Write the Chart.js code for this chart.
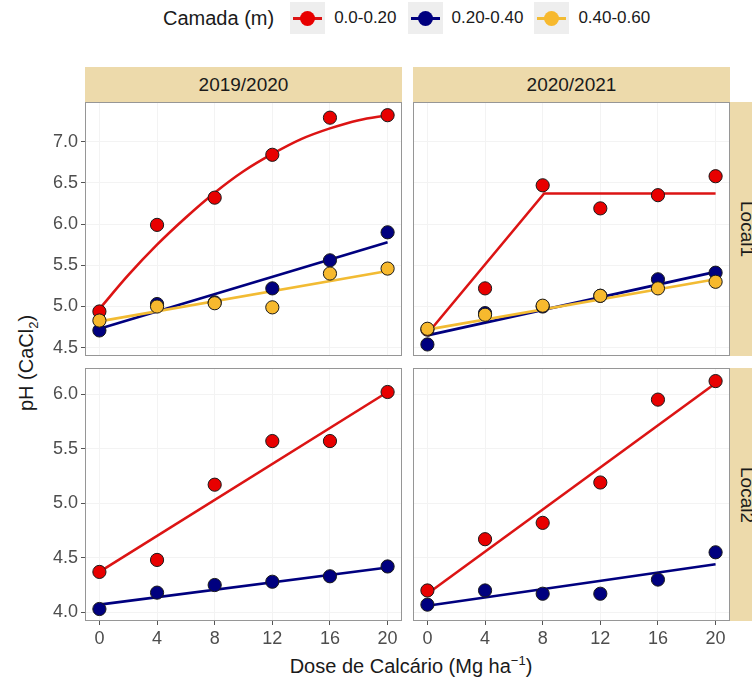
<!DOCTYPE html>
<html><head><meta charset="utf-8">
<script src="https://cdn.jsdelivr.net/npm/chart.js@4"></script>
<style>
html,body{margin:0;padding:0;}
body{width:752px;height:683px;overflow:hidden;background:#fff;position:relative;font-family:"Liberation Sans",Arial,sans-serif;color:#1a1a1a;}
canvas{position:absolute;}
.strip{position:absolute;background:#EDDAAB;color:#1a1a1a;font-size:19px;display:flex;align-items:center;justify-content:center;}
.vtext{transform:rotate(90deg);white-space:nowrap;}
#legend{position:absolute;left:163px;top:2px;height:32px;display:flex;align-items:center;}
#legend .title{font-size:20px;margin-right:16px;}
#legend .key{width:35px;height:32px;background:#EEEEEE;position:relative;margin-right:9px;}
#legend .key .ln{position:absolute;left:3px;right:3px;top:15px;height:3px;}
#legend .key .pt{position:absolute;left:10px;top:9px;width:15px;height:15px;border-radius:50%;}
#legend .lab{font-size:17px;margin-right:11px;}
#ytitle{position:absolute;left:-72px;top:350px;width:200px;text-align:center;font-size:20px;transform:rotate(-90deg);white-space:nowrap;}
#xtitle{position:absolute;left:211px;top:653px;width:400px;text-align:center;font-size:20px;white-space:nowrap;}
sub,sup{font-size:13px;}
</style></head>
<body>
<div id="legend"></div>
<div class="strip" style="left:85px;top:67px;width:317px;height:35px;">2019/2020</div>
<div class="strip" style="left:413px;top:67px;width:317px;height:35px;">2020/2021</div>
<div class="strip" style="left:730px;top:102px;width:34px;height:254px;"><div class="vtext">Local1</div></div>
<div class="strip" style="left:730px;top:368px;width:34px;height:253px;"><div class="vtext">Local2</div></div>
<div id="ytitle">pH (CaCl<sub>2</sub>)</div>
<div id="xtitle">Dose de Calcário (Mg ha<sup>−1</sup>)</div>
<canvas id="c11" width="402" height="254" style="left:0;top:102px;"></canvas>
<canvas id="c12" width="317" height="254" style="left:413px;top:102px;"></canvas>
<canvas id="c21" width="402" height="293" style="left:0;top:368px;"></canvas>
<canvas id="c22" width="317" height="293" style="left:413px;top:368px;"></canvas>
<script>
// ---- categories / ticks ----
const doses = [0, 4, 8, 12, 16, 20];
const xTicks = [0, 4, 8, 12, 16, 20];
const yTicksLocal1 = [4.5, 5.0, 5.5, 6.0, 6.5, 7.0];
const yTicksLocal2 = [4.0, 4.5, 5.0, 5.5, 6.0];
const layers = ['0.0-0.20', '0.20-0.40', '0.40-0.60'];
const layerColors = ['#E80000', '#00007F', '#F7B92E'];
const lineColors = ['#DC1414', '#00007F', '#F2BB33'];

// ---- observed values (pH CaCl2) ----
const L1_1920_red    = [4.94, 5.99, 6.32, 6.84, 7.29, 7.32];
const L1_1920_blue   = [4.71, 5.03, 5.05, 5.22, 5.56, 5.90];
const L1_1920_yellow = [4.83, 5.00, 5.04, 4.99, 5.40, 5.46];
const L1_2021_red    = [4.72, 5.22, 6.47, 6.19, 6.35, 6.58];
const L1_2021_blue   = [4.54, 4.92, 5.00, 5.13, 5.33, 5.41];
const L1_2021_yellow = [4.73, 4.90, 5.01, 5.13, 5.22, 5.30];
const L2_1920_red    = [4.37, 4.48, 5.17, 5.57, 5.57, 6.02];
const L2_1920_blue   = [4.03, 4.18, 4.25, 4.28, 4.33, 4.42];
const L2_2021_red    = [4.20, 4.67, 4.82, 5.19, 5.95, 6.12];
const L2_2021_blue   = [4.07, 4.20, 4.17, 4.17, 4.30, 4.55];

// ---- fitted curves ----
const curveX = [0, 2, 4, 6, 8, 10, 12, 14, 16, 18, 20];
const fit_L1_1920_red = [4.97, 5.38, 5.75, 6.08, 6.38, 6.64, 6.85, 7.03, 7.16, 7.26, 7.32];
const lineX = [0, 20];
const fit_L1_1920_blue = [4.73, 5.78];
const fit_L1_1920_yellow = [4.82, 5.43];
const plateauX = [0, 8.1, 20];
const fit_L1_2021_red = [4.67, 6.37, 6.37];
const fit_L1_2021_blue = [4.65, 5.42];
const fit_L1_2021_yellow = [4.72, 5.33];
const fit_L2_1920_red = [4.37, 6.02];
const fit_L2_1920_blue = [4.07, 4.41];
const fit_L2_2021_red = [4.17, 6.10];
const fit_L2_2021_blue = [4.06, 4.44];

// ---- legend ----
const lg = document.getElementById('legend');
lg.innerHTML = '<span class="title">Camada (m)</span>' + layers.map((l, i) =>
  `<div class="key"><div class="ln" style="background:${lineColors[i]}"></div><div class="pt" style="background:${layerColors[i]}"></div></div><span class="lab">${l}</span>`).join('');

const pts = (xs, ys) => xs.map((x, i) => ({x: x, y: ys[i]}));

const borderPlugin = {
  id: 'panelBorder',
  afterDraw(chart) {
    const a = chart.chartArea, ctx = chart.ctx;
    ctx.save();
    ctx.strokeStyle = '#969696';
    ctx.lineWidth = 1;
    ctx.strokeRect(Math.round(a.left) + 0.5, Math.round(a.top) + 0.5, Math.round(a.right - a.left) - 1, Math.round(a.bottom - a.top) - 1);
    ctx.restore();
  }
};

function zeroPad(s) { s.paddingTop = 0; s.paddingBottom = 0; s.paddingLeft = 0; s.paddingRight = 0; }

function makePanel(id, series, fits, yTicks, yMin, yMax, showY, showX) {
  const datasets = [];
  series.forEach((s, i) => {
    if (!s) return;
    datasets.push({
      data: pts(doses, s), backgroundColor: layerColors[i], borderColor: '#1a1a1a',
      pointRadius: 6.6, pointBorderWidth: 1, showLine: false, clip: false, order: 3 - i
    });
  });
  fits.forEach((f, i) => {
    if (!f) return;
    datasets.push({
      data: pts(f.x, f.y), borderColor: lineColors[i], backgroundColor: lineColors[i],
      showLine: true, pointRadius: 0, borderWidth: 2.6, fill: false,
      cubicInterpolationMode: f.curve ? 'monotone' : 'default', tension: 0,
      order: 13 - i
    });
  });
  return new Chart(document.getElementById(id), {
    type: 'scatter',
    data: {datasets},
    options: {
      responsive: false, animation: false, devicePixelRatio: 1, events: [],
      layout: {padding: 0, autoPadding: false},
      plugins: {legend: {display: false}, tooltip: {enabled: false}},
      scales: {
        x: {
          type: 'linear', min: -1, max: 21,
          afterBuildTicks: s => { s.ticks = xTicks.map(v => ({value: v})); },
          afterFit: s => { s.height = showX ? 40 : 0; zeroPad(s); },
          border: {display: false},
          grid: {color: '#F3F3F3', drawTicks: showX, tickLength: 4, tickColor: '#555555', lineWidth: 1},
          ticks: {display: showX, padding: 3, color: '#4D4D4D', font: {family: 'Liberation Sans', size: 18}}
        },
        y: {
          type: 'linear', min: yMin, max: yMax,
          afterBuildTicks: s => { s.ticks = yTicks.map(v => ({value: v})); },
          afterFit: s => { s.width = showY ? 85 : 0; zeroPad(s); },
          border: {display: false},
          grid: {color: '#F3F3F3', drawTicks: showY, tickLength: 4, tickColor: '#555555', lineWidth: 1},
          ticks: {display: showY, padding: 3, color: '#4D4D4D', font: {family: 'Liberation Sans', size: 18},
                  callback: v => Number(v).toFixed(1)}
        }
      }
    },
    plugins: [borderPlugin]
  });
}

makePanel('c11', [L1_1920_red, L1_1920_blue, L1_1920_yellow],
  [{x: curveX, y: fit_L1_1920_red, curve: true}, {x: lineX, y: fit_L1_1920_blue}, {x: lineX, y: fit_L1_1920_yellow}],
  yTicksLocal1, 4.40, 7.48, true, false);
makePanel('c12', [L1_2021_red, L1_2021_blue, L1_2021_yellow],
  [{x: plateauX, y: fit_L1_2021_red}, {x: lineX, y: fit_L1_2021_blue}, {x: lineX, y: fit_L1_2021_yellow}],
  yTicksLocal1, 4.40, 7.48, false, false);
makePanel('c21', [L2_1920_red, L2_1920_blue, null],
  [{x: lineX, y: fit_L2_1920_red}, {x: lineX, y: fit_L2_1920_blue}, null],
  yTicksLocal2, 3.92, 6.24, true, true);
makePanel('c22', [L2_2021_red, L2_2021_blue, null],
  [{x: lineX, y: fit_L2_2021_red}, {x: lineX, y: fit_L2_2021_blue}, null],
  yTicksLocal2, 3.92, 6.24, false, true);
</script>
</body></html>
